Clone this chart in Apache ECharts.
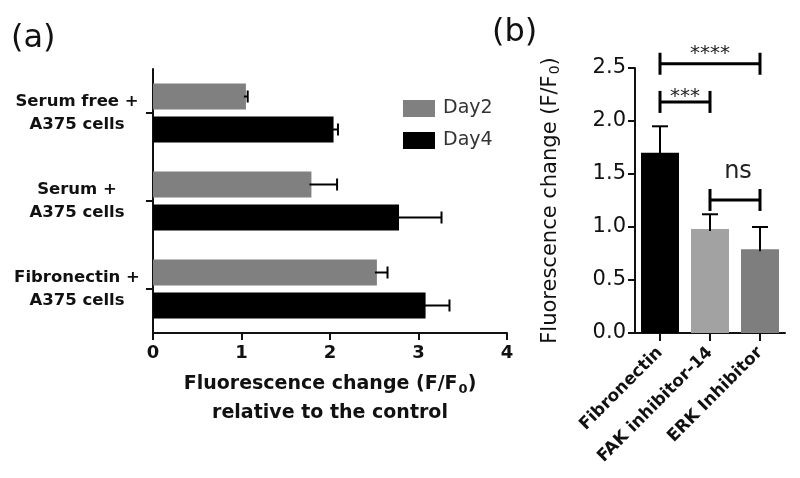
<!DOCTYPE html>
<html>
<head>
<meta charset="utf-8">
<script src="https://cdn.jsdelivr.net/npm/echarts@6/dist/echarts.min.js"></script>
<style>html,body{margin:0;padding:0;background:#fff}#c{width:800px;height:478px}</style>
</head>
<body>
<div id="c"></div>
<script>
// ---- Panel (a) data ----
const catsA = ['Serum free +\nA375 cells', 'Serum +\nA375 cells', 'Fibronectin +\nA375 cells'];
const seriesNamesA = ['Day2', 'Day4'];
const day2 = [1.05, 1.79, 2.53];
const day2Err = [0.02, 0.29, 0.12];
const day4 = [2.04, 2.78, 3.08];
const day4Err = [0.05, 0.48, 0.27];
const ticksA = [0, 1, 2, 3, 4];

// ---- Panel (b) data ----
const catsB = ['Fibronectin', 'FAK inhibitor-14', 'ERK Inhibitor'];
const valsB = [1.70, 0.98, 0.79];
const errB = [0.25, 0.14, 0.21];
const ticksB = [0.0, 0.5, 1.0, 1.5, 2.0, 2.5];
// significance brackets
const sigFrom = [0, 0, 1];
const sigTo = [2, 1, 2];
const sigLevel = [2.54, 2.18, 1.255];
const sigText = ['****', '***', 'ns'];

// ---- styles ----
const FONT = 'DejaVu Sans';
const barWA = 26, gapA = 7;
const offA = (barWA + gapA) / 2;
const sigLift = [10, 5, 28];
const sigSize = [20, 20, 24];
const colorsB = ['#000000', '#a2a2a2', '#7e7e7e'];

const chart = echarts.init(document.getElementById('c'));

function errH(offset) {
  return function (params, api) {
    const v = api.value(0), i = api.value(1), e = api.value(2);
    const p0 = api.coord([v, i]);
    const p1 = api.coord([v + e, i]);
    const y = p0[1] + offset;
    return {
      type: 'group',
      children: [
        { type: 'line', shape: { x1: p0[0] - 2, y1: y, x2: p1[0], y2: y }, style: { stroke: '#000', lineWidth: 2 } },
        { type: 'line', shape: { x1: p1[0], y1: y - 6, x2: p1[0], y2: y + 6 }, style: { stroke: '#000', lineWidth: 2 } }
      ]
    };
  };
}

const option = {
  animation: false,
  backgroundColor: '#fff',
  textStyle: { fontFamily: FONT },
  graphic: [
    { type: 'text', left: 11, top: 23, style: { text: '(a)', fontSize: 32, fontFamily: FONT, fill: '#111' } },
    { type: 'text', left: 492, top: 17, style: { text: '(b)', fontSize: 32, fontFamily: FONT, fill: '#111' } }
  ],
  legend: {
    data: seriesNamesA,
    orient: 'vertical',
    left: 398, top: 94,
    itemWidth: 32, itemHeight: 17, itemGap: 13,
    icon: 'rect',
    textStyle: { fontSize: 19, color: '#333', fontFamily: FONT, padding: [0, 0, 0, 3] }
  },
  grid: [
    { left: 153, top: 69, width: 354, height: 264 },
    { left: 635, top: 68, width: 150, height: 265 }
  ],
  xAxis: [
    {
      gridIndex: 0, type: 'value', min: ticksA[0], max: ticksA[ticksA.length - 1], interval: 1,
      splitLine: { show: false },
      axisLine: { show: true, lineStyle: { color: '#111', width: 2 } },
      axisTick: { show: true, length: 7, lineStyle: { color: '#111', width: 2 } },
      axisLabel: { fontSize: 18, fontWeight: 'bold', color: '#111', margin: 11, fontFamily: FONT },
      name: 'Fluorescence change (F/F{sub|0})\nrelative to the control',
      nameLocation: 'middle', nameGap: 37,
      nameTextStyle: {
        fontSize: 19, fontWeight: 'bold', color: '#111', lineHeight: 29, fontFamily: FONT,
        rich: { sub: { fontSize: 13, fontWeight: 'bold', fontFamily: FONT, padding: [10, 0, 0, 1], lineHeight: 29 } }
      }
    },
    {
      gridIndex: 1, type: 'category', data: catsB,
      axisLine: { show: true, lineStyle: { color: '#111', width: 2 } },
      axisTick: { show: true, alignWithLabel: true, length: 8, lineStyle: { color: '#111', width: 2 } },
      axisLabel: { rotate: 45, interval: 0, fontSize: 17, fontWeight: 'bold', color: '#111', margin: 17, fontFamily: FONT }
    }
  ],
  yAxis: [
    {
      gridIndex: 0, type: 'category', data: catsA, inverse: true,
      axisLine: { show: true, lineStyle: { color: '#111', width: 2 } },
      axisTick: { show: true, alignWithLabel: true, length: 7, lineStyle: { color: '#111', width: 2 } },
      axisLabel: { fontSize: 16.5, fontWeight: 'bold', color: '#111', align: 'center', margin: 76, lineHeight: 23, fontFamily: FONT }
    },
    {
      gridIndex: 1, type: 'value', min: ticksB[0], max: ticksB[ticksB.length - 1], interval: 0.5,
      splitLine: { show: false },
      axisLine: { show: true, lineStyle: { color: '#111', width: 2 } },
      axisTick: { show: true, length: 7, lineStyle: { color: '#111', width: 2 } },
      axisLabel: { fontSize: 21, color: '#111', margin: 9, fontFamily: FONT, formatter: v => v.toFixed(1) },
      name: 'Fluorescence change (F/F{sub|0})',
      nameLocation: 'middle', nameGap: 72, nameRotate: 90,
      nameTextStyle: {
        fontSize: 21, color: '#111', fontFamily: FONT, lineHeight: 25,
        rich: { sub: { fontSize: 14, fontFamily: FONT, padding: [10, 0, 0, 1], lineHeight: 25 } }
      }
    }
  ],
  series: [
    {
      name: seriesNamesA[0], type: 'bar', xAxisIndex: 0, yAxisIndex: 0,
      data: day2, barWidth: barWA, barGap: (gapA / barWA * 100) + '%',
      itemStyle: { color: '#808080' }
    },
    {
      name: seriesNamesA[1], type: 'bar', xAxisIndex: 0, yAxisIndex: 0,
      data: day4, barWidth: barWA,
      itemStyle: { color: '#000000' }
    },
    {
      type: 'custom', xAxisIndex: 0, yAxisIndex: 0, z: 5,
      data: day2.map((v, i) => [v, i, day2Err[i]]),
      encode: { x: 0, y: 1 },
      renderItem: errH(-offA)
    },
    {
      type: 'custom', xAxisIndex: 0, yAxisIndex: 0, z: 5,
      data: day4.map((v, i) => [v, i, day4Err[i]]),
      encode: { x: 0, y: 1 },
      renderItem: errH(offA)
    },
    {
      type: 'bar', xAxisIndex: 1, yAxisIndex: 1, barWidth: 38,
      data: valsB.map((v, i) => ({ value: v, itemStyle: { color: colorsB[i] } }))
    },
    {
      type: 'custom', xAxisIndex: 1, yAxisIndex: 1, z: 5,
      data: valsB.map((v, i) => [i, v, errB[i]]),
      encode: { x: 0, y: 1 },
      renderItem: function (params, api) {
        const i = api.value(0), v = api.value(1), e = api.value(2);
        const p0 = api.coord([i, v]);
        const p1 = api.coord([i, v + e]);
        return {
          type: 'group',
          children: [
            { type: 'line', shape: { x1: p0[0], y1: p0[1] + 2, x2: p1[0], y2: p1[1] }, style: { stroke: '#000', lineWidth: 2 } },
            { type: 'line', shape: { x1: p1[0] - 8, y1: p1[1], x2: p1[0] + 8, y2: p1[1] }, style: { stroke: '#000', lineWidth: 2 } }
          ]
        };
      }
    },
    {
      type: 'custom', xAxisIndex: 1, yAxisIndex: 1, z: 6, clip: false,
      data: sigFrom.map((f, k) => [f, sigTo[k], sigLevel[k], k]),
      encode: { x: 0, y: 2 },
      renderItem: function (params, api) {
        const f = api.value(0), t = api.value(1), lv = api.value(2), k = api.value(3);
        const a = api.coord([f, lv]);
        const b = api.coord([t, lv]);
        const s = { stroke: '#000', lineWidth: 3 };
        return {
          type: 'group',
          children: [
            { type: 'line', shape: { x1: a[0], y1: a[1], x2: b[0], y2: b[1] }, style: s },
            { type: 'line', shape: { x1: a[0], y1: a[1] - 11, x2: a[0], y2: a[1] + 11 }, style: s },
            { type: 'line', shape: { x1: b[0], y1: b[1] - 11, x2: b[0], y2: b[1] + 11 }, style: s },
            { type: 'text', style: { text: sigText[k], x: (a[0] + b[0]) / 2 + (k === 2 ? 3 : 0), y: a[1] - sigLift[k], align: 'center', verticalAlign: 'middle', fontSize: sigSize[k], fontFamily: FONT, fill: '#222' } }
          ]
        };
      }
    }
  ]
};
chart.setOption(option);
</script>
</body>
</html>
